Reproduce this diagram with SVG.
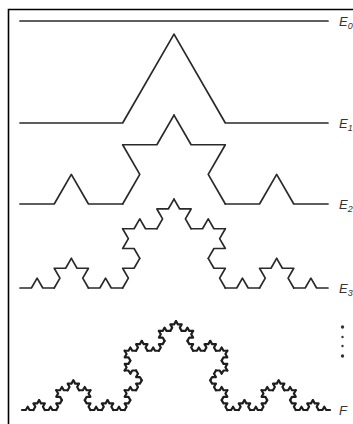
<svg xmlns="http://www.w3.org/2000/svg" width="353" height="424" viewBox="0 0 353 424">
  <style>
    .k { fill: none; stroke-linecap: round; stroke-linejoin: round; }
    .e { stroke: #2a2a2a; stroke-width: 1.7; }
    .f { stroke: #1e1e1e; stroke-width: 2.2; }
    .lbl { font-family: "Liberation Sans", Arial, sans-serif; font-style: italic; font-size: 13px; fill: #333; }
    .sub { font-size: 9px; }
  </style>
  <defs>
    <path id="k1" d="M0 0H0.333333L0.5 -0.288675L0.666667 0H1" fill="none" vector-effect="non-scaling-stroke" stroke-linecap="round" stroke-linejoin="round"/>
    <g id="k2">
      <use href="#k1" transform="scale(0.333333)"/>
      <use href="#k1" transform="translate(0.333333 0) rotate(-60) scale(0.333333)"/>
      <use href="#k1" transform="translate(0.5 -0.288675) rotate(60) scale(0.333333)"/>
      <use href="#k1" transform="translate(0.666667 0) scale(0.333333)"/>
    </g>
    <g id="k3">
      <use href="#k2" transform="scale(0.333333)"/>
      <use href="#k2" transform="translate(0.333333 0) rotate(-60) scale(0.333333)"/>
      <use href="#k2" transform="translate(0.5 -0.288675) rotate(60) scale(0.333333)"/>
      <use href="#k2" transform="translate(0.666667 0) scale(0.333333)"/>
    </g>
    <g id="k4">
      <use href="#k3" transform="scale(0.333333)"/>
      <use href="#k3" transform="translate(0.333333 0) rotate(-60) scale(0.333333)"/>
      <use href="#k3" transform="translate(0.5 -0.288675) rotate(60) scale(0.333333)"/>
      <use href="#k3" transform="translate(0.666667 0) scale(0.333333)"/>
    </g>
  </defs>
  <rect width="353" height="424" fill="#ffffff"/>
  <!-- frame -->
  <path d="M8.5 424V9.5H353" fill="none" stroke="#000" stroke-width="1.6"/>
  <!-- curves -->
  <g id="E0" class="k e">
    <path d="M20 21H328"/>
  </g>
  <g id="E1" class="k e">
    <use href="#k1" transform="translate(20 123) scale(308)"/>
  </g>
  <g id="E2" class="k e">
    <use href="#k2" transform="translate(20 204) scale(308)"/>
  </g>
  <g id="E3" class="k e">
    <use href="#k3" transform="translate(20 288) scale(308)"/>
  </g>
  <g id="F" class="k f">
    <use href="#k4" transform="translate(22 410) scale(308)"/>
  </g>
  <!-- labels -->
  <g id="labels">
    <text class="lbl" x="339" y="26">E<tspan class="sub" dy="3">0</tspan></text>
    <text class="lbl" x="339" y="128">E<tspan class="sub" dy="3">1</tspan></text>
    <text class="lbl" x="339" y="209">E<tspan class="sub" dy="3">2</tspan></text>
    <text class="lbl" x="339" y="293">E<tspan class="sub" dy="3">3</tspan></text>
    <text class="lbl" x="339" y="415">F</text>
    <g fill="#333">
      <circle cx="342.5" cy="327" r="1.7"/>
      <circle cx="342.5" cy="337" r="1.2"/>
      <circle cx="342.5" cy="346" r="1.2"/>
      <circle cx="342.5" cy="356" r="1.7"/>
    </g>
  </g>
</svg>
